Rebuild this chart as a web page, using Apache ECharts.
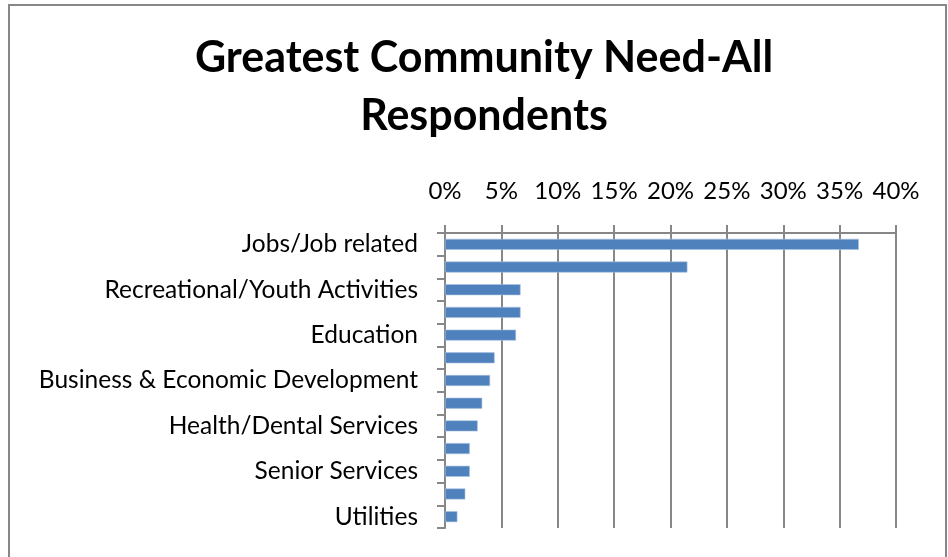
<!DOCTYPE html>
<html>
<head>
<meta charset="utf-8">
<style>
  html, body { margin: 0; padding: 0; background: #fff; }
  #chart { width: 948px; height: 557px; }
</style>
<script src="https://cdn.jsdelivr.net/npm/echarts@6/dist/echarts.min.js"></script>
</head>
<body>
<div id="chart"></div>
<script>
// Category labels, top to bottom (every other row carries no printed label)
const categories = [
  'Jobs/Job related', '',
  'Recreational/Youth Activities', '',
  'Education', '',
  'Business & Economic Development', '',
  'Health/Dental Services', '',
  'Senior Services', '',
  'Utilities'
];

// Share of all respondents naming each need
const shares = [0.367, 0.215, 0.067, 0.067, 0.063, 0.044, 0.040, 0.033, 0.029, 0.022, 0.022, 0.018, 0.011];

// Value-axis range and step
const axisMin = 0;
const axisMax = 0.40;
const axisStep = 0.05;

const titleText = 'Greatest Community Need-All\nRespondents';

const gray = '#878787';
const font = 'Lato';

const chart = echarts.init(document.getElementById('chart'), null, { renderer: 'canvas' });

chart.setOption({
  animation: false,
  backgroundColor: '#ffffff',
  title: {
    text: titleText,
    left: 479,
    top: 24,
    textAlign: 'center',
    textStyle: {
      fontFamily: font,
      fontWeight: 'bold',
      fontSize: 43,
      lineHeight: 58,
      color: '#000'
    }
  },
  graphic: [{
    type: 'rect',
    shape: { x: 9, y: 5, width: 937, height: 620 },
    style: { fill: 'none', stroke: gray, lineWidth: 2 },
    silent: true
  }],
  grid: {
    left: 445,
    right: 52,
    top: 233,
    bottom: 29,
    containLabel: false
  },
  xAxis: {
    type: 'value',
    position: 'top',
    min: axisMin,
    max: axisMax,
    interval: axisStep,
    axisLine: { show: true, lineStyle: { color: gray, width: 2 } },
    axisTick: { show: true, inside: false, length: 8, lineStyle: { color: gray, width: 2 } },
    splitLine: { show: true, lineStyle: { color: gray, width: 2 } },
    axisLabel: {
      margin: 30,
      fontFamily: font,
      fontSize: 24,
      color: '#000',
      formatter: v => Math.round(v * 100) + '%'
    }
  },
  yAxis: {
    type: 'category',
    inverse: true,
    data: categories,
    axisLine: { show: true, lineStyle: { color: gray, width: 2 } },
    axisTick: { show: true, length: 8, interval: 0, lineStyle: { color: gray, width: 2 } },
    splitLine: { show: false },
    axisLabel: {
      interval: 0,
      margin: 27,
      fontFamily: font,
      fontSize: 24.5,
      color: '#000'
    }
  },
  series: [{
    type: 'bar',
    data: shares,
    barWidth: 11,
    itemStyle: {
      color: '#4f81bd',
      borderColor: '#a9c1e0',
      borderWidth: 0.6
    }
  }]
});
</script>
</body>
</html>
